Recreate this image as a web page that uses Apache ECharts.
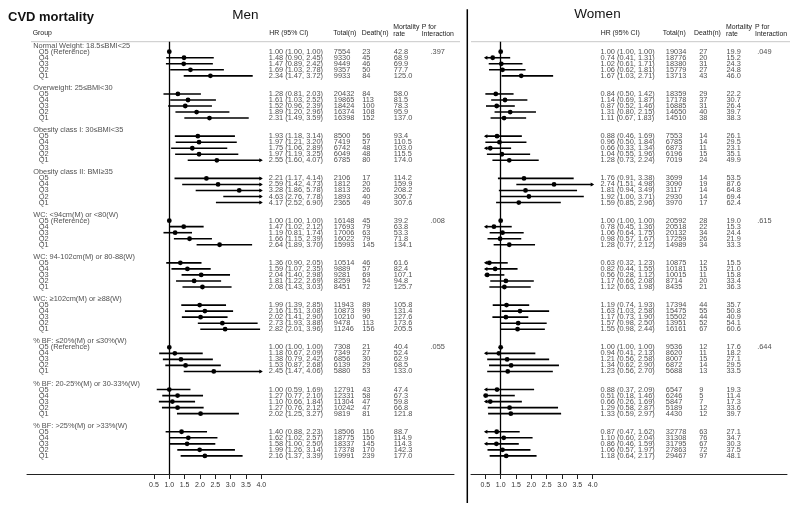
<!DOCTYPE html>
<html>
<head>
<meta charset="utf-8">
<script src="https://cdn.jsdelivr.net/npm/echarts@6/dist/echarts.min.js"></script>
<style>
html, body { margin: 0; padding: 0; background: #fff; }
#chart { width: 800px; height: 514px; }
</style>
</head>
<body>
<div id="chart"></div>
<script>
// groups shared by both panels, 5 quintile rows each
var groups = [
  'Normal Weight: 18.5≤BMI<25',
  'Overweight: 25≤BMI<30',
  'Obesity class I: 30≤BMI<35',
  'Obesity class II: BMI≥35',
  'WC: <94cm(M) or <80(W)',
  'WC: 94-102cm(M) or 80-88(W)',
  'WC: ≥102cm(M) or ≥88(W)',
  '% BF: ≤20%(M) or ≤30%(W)',
  '% BF: 20-25%(M) or 30-33%(W)',
  '% BF: >25%(M) or >33%(W)'
];
var quintiles = ['Q5', 'Q4', 'Q3', 'Q2', 'Q1'];
var refGroups = [0, 4, 7];
var hrTicks = [0.5, 1.0, 1.5, 2.0, 2.5, 3.0, 3.5, 4.0];

// Men
var menHR = [
  [1.00, 1.48, 1.47, 1.69, 2.34],
  [1.28, 1.61, 1.52, 1.89, 2.31],
  [1.93, 1.97, 1.75, 1.97, 2.55],
  [2.21, 2.59, 3.28, 4.63, 4.17],
  [1.00, 1.47, 1.19, 1.66, 2.64],
  [1.36, 1.59, 2.04, 1.81, 2.08],
  [1.99, 2.16, 2.02, 2.73, 2.82],
  [1.00, 1.18, 1.38, 1.53, 2.45],
  [1.00, 1.27, 1.10, 1.27, 2.02],
  [1.40, 1.62, 1.58, 1.99, 2.16]
];
var menLo = [
  [1.00, 0.90, 0.89, 1.03, 1.47],
  [0.81, 1.03, 0.96, 1.20, 1.49],
  [1.18, 1.21, 1.06, 1.19, 1.60],
  [1.17, 1.42, 1.86, 2.76, 2.52],
  [1.00, 1.02, 0.81, 1.15, 1.89],
  [0.90, 1.07, 1.40, 1.22, 1.43],
  [1.39, 1.51, 1.41, 1.93, 2.01],
  [1.00, 0.67, 0.79, 0.87, 1.47],
  [0.59, 0.77, 0.66, 0.76, 1.25],
  [0.88, 1.02, 1.00, 1.26, 1.37]
];
var menHi = [
  [1.00, 2.45, 2.42, 2.78, 3.72],
  [2.03, 2.52, 2.39, 2.96, 3.59],
  [3.14, 3.20, 2.89, 3.25, 4.07],
  [4.14, 4.73, 5.78, 7.78, 6.90],
  [1.00, 2.12, 1.74, 2.39, 3.70],
  [2.05, 2.35, 2.98, 2.69, 3.03],
  [2.85, 3.08, 2.90, 3.88, 3.96],
  [1.00, 2.09, 2.42, 2.68, 4.06],
  [1.69, 2.10, 1.84, 2.12, 3.27],
  [2.23, 2.57, 2.50, 3.14, 3.39]
];
var menTotal = [
  [7554, 9330, 9449, 9357, 9933],
  [20432, 19865, 18424, 16374, 16398],
  [8500, 7419, 6742, 6049, 6785],
  [2106, 1812, 1813, 1893, 2365],
  [16148, 17693, 17006, 16022, 15993],
  [10514, 9889, 9281, 8259, 8451],
  [11943, 10873, 10210, 9478, 11246],
  [7308, 7349, 6856, 6139, 5880],
  [12791, 12331, 11304, 10242, 9819],
  [18506, 18775, 18337, 17378, 19991]
];
var menDeath = [
  [23, 45, 46, 50, 84],
  [84, 113, 100, 108, 152],
  [56, 57, 48, 48, 80],
  [17, 20, 26, 40, 49],
  [45, 79, 63, 79, 145],
  [46, 57, 69, 54, 72],
  [89, 99, 90, 113, 156],
  [21, 27, 30, 29, 53],
  [43, 58, 47, 47, 81],
  [116, 150, 145, 170, 239]
];
var menRate = [
  [42.8, 68.9, 69.9, 77.7, 125.0],
  [58.0, 81.5, 78.3, 95.9, 137.0],
  [93.4, 110.5, 103.0, 115.5, 174.0],
  [114.2, 159.9, 208.2, 306.7, 307.6],
  [39.2, 63.8, 53.3, 71.8, 134.1],
  [61.6, 82.4, 107.1, 94.8, 125.7],
  [105.8, 131.4, 127.6, 173.6, 205.5],
  [40.4, 52.4, 62.9, 68.5, 133.0],
  [47.4, 67.3, 59.8, 66.8, 121.8],
  [88.7, 114.9, 114.3, 142.3, 177.0]
];
var menP = ['.397', '', '', '', '.008', '', '', '.055', '', ''];

// Women
var womenHR = [
  [1.00, 0.74, 1.02, 1.06, 1.67],
  [0.84, 1.14, 0.87, 1.31, 1.11],
  [0.88, 0.96, 0.66, 1.04, 1.28],
  [1.76, 2.74, 1.81, 1.92, 1.59],
  [1.00, 0.78, 1.06, 0.98, 1.28],
  [0.63, 0.82, 0.56, 1.17, 1.12],
  [1.19, 1.63, 1.17, 1.57, 1.55],
  [1.00, 0.94, 1.21, 1.34, 1.23],
  [0.88, 0.51, 0.66, 1.29, 1.33],
  [0.87, 1.10, 0.86, 1.06, 1.18]
];
var womenLo = [
  [1.00, 0.41, 0.61, 0.62, 1.03],
  [0.50, 0.69, 0.52, 0.80, 0.67],
  [0.46, 0.50, 0.33, 0.55, 0.73],
  [0.91, 1.51, 0.94, 1.00, 0.85],
  [1.00, 0.45, 0.64, 0.57, 0.77],
  [0.32, 0.44, 0.28, 0.66, 0.63],
  [0.74, 1.03, 0.73, 0.98, 0.98],
  [1.00, 0.41, 0.56, 0.62, 0.56],
  [0.37, 0.18, 0.26, 0.58, 0.59],
  [0.47, 0.60, 0.46, 0.57, 0.64]
];
var womenHi = [
  [1.00, 1.31, 1.71, 1.81, 2.71],
  [1.42, 1.87, 1.46, 2.15, 1.83],
  [1.69, 1.84, 1.34, 1.96, 2.24],
  [3.38, 4.98, 3.49, 3.71, 2.96],
  [1.00, 1.36, 1.75, 1.67, 2.12],
  [1.23, 1.55, 1.12, 2.08, 1.98],
  [1.93, 2.58, 1.90, 2.50, 2.44],
  [1.00, 2.13, 2.58, 2.90, 2.70],
  [2.09, 1.46, 1.69, 2.87, 2.97],
  [1.62, 2.04, 1.59, 1.97, 2.17]
];
var womenTotal = [
  [19034, 18776, 18380, 15779, 13713],
  [18359, 17178, 16885, 14650, 14510],
  [7553, 6785, 6873, 6196, 7019],
  [3699, 3090, 3117, 2930, 3970],
  [20592, 20518, 20132, 17259, 14989],
  [10875, 10181, 10015, 8714, 8435],
  [17394, 15475, 15502, 13951, 16161],
  [9536, 8620, 8007, 6872, 5688],
  [6547, 6246, 5847, 5189, 4430],
  [32778, 31308, 31795, 27863, 29467]
];
var womenDeath = [
  [27, 20, 31, 27, 43],
  [29, 37, 31, 40, 38],
  [14, 14, 11, 15, 24],
  [14, 19, 14, 14, 17],
  [28, 22, 34, 26, 34],
  [12, 15, 11, 20, 21],
  [44, 55, 44, 52, 67],
  [12, 11, 15, 14, 13],
  [9, 5, 7, 12, 12],
  [63, 76, 67, 72, 97]
];
var womenRate = [
  [19.9, 15.2, 24.3, 24.8, 46.0],
  [22.2, 30.7, 26.4, 39.7, 38.3],
  [26.1, 29.5, 23.1, 35.1, 49.9],
  [53.5, 87.6, 64.8, 69.4, 62.4],
  [19.0, 15.3, 24.4, 21.9, 33.3],
  [15.5, 21.0, 15.8, 33.4, 36.3],
  [35.7, 50.8, 40.9, 54.1, 60.6],
  [17.6, 18.2, 27.1, 29.5, 33.5],
  [19.3, 11.4, 17.3, 33.6, 39.7],
  [27.1, 34.7, 30.3, 37.5, 48.1]
];
var womenP = ['.049', '', '', '', '.615', '', '', '.644', '', ''];

var FONT = '"Liberation Sans", Arial, sans-serif';
var TXT = '#222';
var LO_CLIP = 0.5, HI_CLIP = 4.0;

// each group takes 7 rows: header, Q5..Q1, blank
function rowOf(s, q) { return 7 * s + 1 + q; }

function ciData(hr, lo, hi) {
  var out = [];
  for (var s = 0; s < hr.length; s++) {
    for (var q = 0; q < 5; q++) {
      out.push([lo[s][q], hi[s][q], hr[s][q], rowOf(s, q)]);
    }
  }
  return out;
}

function arrowHead(p, dir) {
  return {
    type: 'polygon',
    shape: { points: [[p[0] + dir * 1.5, p[1]], [p[0] - dir * 2, p[1] - 2], [p[0] - dir * 2, p[1] + 2]] },
    style: { fill: '#000' }
  };
}

function renderCI(params, api) {
  var lo = api.value(0), hi = api.value(1), hr = api.value(2), row = api.value(3);
  var p1 = api.coord([Math.max(lo, LO_CLIP), row]);
  var p2 = api.coord([Math.min(hi, HI_CLIP), row]);
  var children = [{
    type: 'line',
    shape: { x1: p1[0], y1: p1[1], x2: p2[0], y2: p2[1] },
    style: { stroke: '#000', lineWidth: 1.6 }
  }];
  if (lo < LO_CLIP) children.push(arrowHead(p1, -1));
  if (hi > HI_CLIP) children.push(arrowHead(p2, 1));
  if (hr >= LO_CLIP && hr <= HI_CLIP) {
    var c = api.coord([hr, row]);
    children.push({ type: 'circle', shape: { cx: c[0], cy: c[1], r: 2.4 }, style: { fill: '#000' } });
  }
  return { type: 'group', children: children };
}

function ciSeries(xi, yi, hr, lo, hi) {
  return {
    type: 'custom',
    xAxisIndex: xi,
    yAxisIndex: yi,
    renderItem: renderCI,
    encode: { x: [0, 1, 2], y: 3 },
    data: ciData(hr, lo, hi),
    silent: true,
    markLine: {
      silent: true,
      symbol: 'none',
      label: { show: false },
      lineStyle: { color: '#000', width: 1.3, type: 'solid' },
      data: [{ xAxis: 1 }]
    }
  };
}

// one text column, rows placed on the hidden row axis
function textCol(xi, yi, x, fn, withHeaders) {
  var data = [];
  for (var s = 0; s < groups.length; s++) {
    if (withHeaders) data.push({ value: [x - 5.6, 7 * s], name: groups[s] });
    for (var q = 0; q < 5; q++) {
      var t = fn(s, q);
      if (t !== '') data.push({ value: [x, rowOf(s, q)], name: t });
    }
  }
  return {
    type: 'scatter',
    xAxisIndex: xi,
    yAxisIndex: yi,
    symbolSize: 1,
    itemStyle: { color: 'rgba(0,0,0,0)' },
    silent: true,
    label: {
      show: true,
      position: 'right',
      distance: 0,
      formatter: '{b}',
      fontSize: 7.4,
      fontFamily: FONT,
      color: TXT
    },
    data: data
  };
}

function hrText(hr, lo, hi) {
  return function (s, q) {
    return hr[s][q].toFixed(2) + ' (' + lo[s][q].toFixed(2) + ', ' + hi[s][q].toFixed(2) + ')';
  };
}

function hrAxis(grid, min, max) {
  return {
    gridIndex: grid,
    type: 'value',
    min: min,
    max: max,
    position: 'bottom',
    splitLine: { show: false },
    axisLine: { show: true, onZero: false, lineStyle: { color: '#222', width: 1 } },
    axisTick: { show: true, customValues: hrTicks, length: 5, lineStyle: { color: '#222', width: 1 } },
    axisLabel: {
      customValues: hrTicks,
      formatter: function (v) { return v.toFixed(1); },
      fontSize: 7,
      fontFamily: FONT,
      color: '#333',
      margin: 8
    }
  };
}

function headerText(x, y, text) {
  return {
    type: 'text',
    style: { text: text, x: x, y: y, font: '6.9px ' + FONT, fill: TXT, align: 'left', verticalAlign: 'middle', lineHeight: 6.5 }
  };
}

var chart = echarts.init(document.getElementById('chart'));

var option = {
  animation: false,
  backgroundColor: '#fff',
  grid: [
    { left: 27, top: 41.7, width: 427, height: 432.3 },
    { left: 471, top: 41.7, width: 316, height: 432.3 }
  ],
  xAxis: [
    hrAxis(0, -3.64, 10.283),
    { gridIndex: 0, type: 'value', min: 27, max: 454, show: false },
    hrAxis(1, 0.032, 10.335),
    { gridIndex: 1, type: 'value', min: 471, max: 787, show: false }
  ],
  yAxis: [
    { gridIndex: 0, type: 'value', inverse: true, min: -0.66, max: 71, show: false },
    { gridIndex: 1, type: 'value', inverse: true, min: -0.66, max: 71, show: false }
  ],
  graphic: [
    { type: 'text', style: { text: 'CVD mortality', x: 8, y: 17, font: 'bold 13px ' + FONT, fill: '#111', align: 'left', verticalAlign: 'middle' } },
    { type: 'text', style: { text: 'Men', x: 245.5, y: 15, font: '13.5px ' + FONT, fill: '#111', align: 'center', verticalAlign: 'middle' } },
    { type: 'text', style: { text: 'Women', x: 597.5, y: 14, font: '13.5px ' + FONT, fill: '#111', align: 'center', verticalAlign: 'middle' } },
    headerText(32.7, 33.3, 'Group'),
    headerText(269.3, 33.3, 'HR (95% CI)'),
    headerText(333.3, 33.3, 'Total(n)'),
    headerText(361.7, 33.3, 'Death(n)'),
    headerText(393.3, 30.5, 'Mortality\nrate'),
    headerText(421.7, 30.5, 'P for\nInteraction'),
    headerText(600.7, 33.3, 'HR (95% CI)'),
    headerText(662.7, 33.3, 'Total(n)'),
    headerText(694, 33.3, 'Death(n)'),
    headerText(726, 30.5, 'Mortality\nrate'),
    headerText(755, 30.5, 'P for\nInteraction'),
    { type: 'line', shape: { x1: 31, y1: 41.7, x2: 460, y2: 41.7 }, style: { stroke: '#c8c8c8', lineWidth: 1 } },
    { type: 'line', shape: { x1: 471, y1: 41.7, x2: 790, y2: 41.7 }, style: { stroke: '#c8c8c8', lineWidth: 1 } },
    { type: 'line', shape: { x1: 467.3, y1: 9.3, x2: 467.3, y2: 503 }, style: { stroke: '#000', lineWidth: 1.5 } }
  ],
  series: [
    ciSeries(0, 0, menHR, menLo, menHi),
    textCol(1, 0, 38.3, function (s, q) { return (q === 0 && refGroups.indexOf(s) >= 0) ? 'Q5 (Reference)' : quintiles[q]; }, true),
    textCol(1, 0, 268.3, hrText(menHR, menLo, menHi)),
    textCol(1, 0, 333.3, function (s, q) { return String(menTotal[s][q]); }),
    textCol(1, 0, 361.7, function (s, q) { return String(menDeath[s][q]); }),
    textCol(1, 0, 393.3, function (s, q) { return menRate[s][q].toFixed(1); }),
    textCol(1, 0, 430, function (s, q) { return q === 0 ? menP[s] : ''; }),

    ciSeries(2, 1, womenHR, womenLo, womenHi),
    textCol(3, 1, 600, hrText(womenHR, womenLo, womenHi)),
    textCol(3, 1, 665.3, function (s, q) { return String(womenTotal[s][q]); }),
    textCol(3, 1, 698.7, function (s, q) { return String(womenDeath[s][q]); }),
    textCol(3, 1, 726, function (s, q) { return womenRate[s][q].toFixed(1); }),
    textCol(3, 1, 756.7, function (s, q) { return q === 0 ? womenP[s] : ''; })
  ]
};

chart.setOption(option);
window.addEventListener('resize', function () {
  chart.resize();
});
</script>
</body>
</html>
